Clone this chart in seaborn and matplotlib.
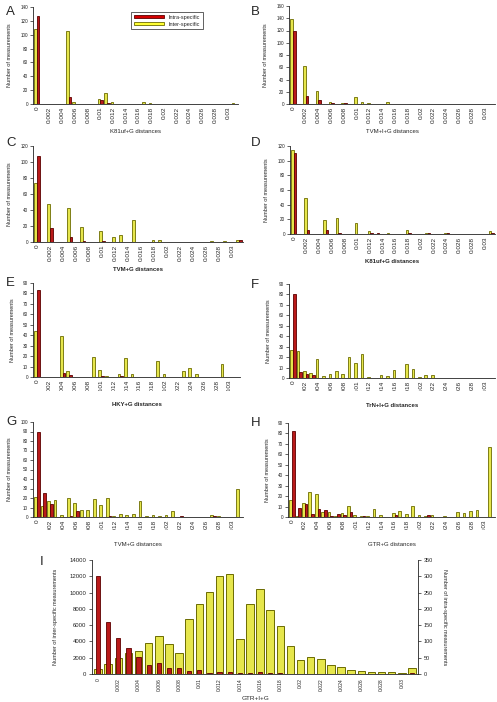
import matplotlib
matplotlib.use("Agg")
import matplotlib.pyplot as plt
from matplotlib.patches import Patch
from matplotlib.transforms import Bbox, TransformedBbox
import seaborn as sns
import pandas as pd

sns.set_style("ticks")
plt.rcParams["font.family"] = ["Liberation Sans", "DejaVu Sans"]

# 32 distance classes (0 .. 0.031), labels on every second class
bins = list(range(32))
tick_labels = ["0", "0.002", "0.004", "0.006", "0.008", "0.01", "0.012", "0.014",
               "0.016", "0.018", "0.02", "0.022", "0.024", "0.026", "0.028", "0.03"]

# --- A: K81uf+G ---
inter_A = [108, 0, 0, 0, 0, 105, 3, 0, 0, 0, 7, 16, 3, 0, 0, 0,
           0, 3, 1, 0, 0, 0, 0, 0, 0, 0, 0, 0, 0, 0, 0, 1]
intra_A = [127, 0, 0, 0, 0, 10, 0, 0, 0, 0, 6, 2, 0, 0, 0, 0,
           0, 0, 0, 0, 0, 0, 0, 0, 0, 0, 0, 0, 0, 0, 0, 0]
# --- B: TVM+I+G ---
inter_B = [138, 0, 62, 0, 21, 0, 4, 0, 1, 0, 12, 3, 1, 0, 0, 3,
           0, 0, 0, 0, 0, 0, 0, 0, 0, 0, 0, 0, 0, 0, 0, 0]
intra_B = [119, 0, 13, 0, 7, 0, 2, 0, 1, 0, 0, 0, 0, 0, 0, 0,
           0, 0, 0, 0, 0, 0, 0, 0, 0, 0, 0, 0, 0, 0, 0, 0]
# --- C: TVM+G ---
inter_C = [74, 0, 48, 0, 0, 42, 0, 19, 0, 0, 14, 0, 6, 9, 0, 28,
           0, 0, 3, 3, 0, 0, 0, 0, 0, 0, 0, 1, 0, 1, 0, 2]
intra_C = [108, 0, 18, 0, 0, 6, 0, 1, 0, 0, 1, 0, 0, 0, 0, 0,
           0, 0, 0, 0, 0, 0, 0, 0, 0, 0, 0, 0, 0, 0, 0, 3]
# --- D: K81uf+G ---
inter_D = [114, 0, 49, 0, 0, 19, 0, 22, 0, 0, 15, 0, 4, 0, 0, 2,
           0, 0, 5, 0, 0, 1, 0, 0, 1, 0, 0, 0, 0, 0, 0, 4]
intra_D = [111, 0, 5, 0, 0, 5, 0, 1, 0, 0, 0, 0, 1, 1, 0, 0,
           0, 0, 1, 0, 0, 2, 0, 0, 1, 0, 0, 0, 0, 0, 0, 2]
# --- E: HKY+G ---
inter_E = [44, 0, 0, 0, 39, 6, 0, 0, 0, 19, 7, 1, 0, 3, 18, 3,
           0, 0, 0, 15, 3, 0, 0, 6, 9, 3, 0, 0, 0, 12, 0, 0]
intra_E = [83, 0, 0, 0, 4, 2, 0, 0, 0, 0, 1, 0, 0, 1, 0, 0,
           0, 0, 0, 0, 0, 0, 0, 0, 0, 0, 0, 0, 0, 0, 0, 0]
# --- F: TrN+I+G ---
inter_F = [27, 26, 7, 5, 18, 2, 4, 7, 4, 20, 14, 23, 1, 0, 3, 2,
           8, 0, 13, 9, 1, 3, 3, 0, 0, 0, 0, 0, 0, 0, 0, 0]
intra_F = [80, 6, 4, 3, 0, 0, 0, 0, 0, 0, 0, 0, 0, 0, 0, 0,
           0, 0, 0, 0, 0, 0, 0, 0, 0, 0, 0, 0, 0, 0, 0, 0]
# --- G: TVM+G ---
inter_G = [21, 12, 17, 18, 2, 20, 15, 7, 7, 19, 13, 20, 1, 3, 2, 3,
           17, 1, 2, 1, 2, 6, 0, 0, 0, 0, 0, 2, 1, 0, 0, 29]
intra_G = [90, 25, 14, 0, 0, 1, 6, 0, 0, 0, 0, 1, 0, 0, 0, 0,
           0, 0, 0, 0, 0, 0, 1, 0, 0, 0, 0, 1, 0, 0, 0, 0]
# --- H: GTR+G ---
inter_H = [16, 1, 13, 24, 22, 5, 5, 1, 4, 11, 2, 1, 1, 8, 2, 0,
           4, 6, 3, 11, 2, 1, 2, 0, 1, 0, 5, 4, 6, 7, 0, 67]
intra_H = [82, 9, 12, 3, 8, 7, 1, 3, 2, 5, 0, 1, 0, 0, 0, 0,
           2, 0, 0, 0, 0, 2, 0, 0, 0, 0, 0, 0, 0, 0, 0, 0]
# --- I: GTR+I+G (inter on left axis, intra on right axis) ---
inter_I = [610, 1190, 1930, 2560, 2860, 3770, 4670, 3680, 2620, 6800, 8550, 10100,
           12000, 12300, 4300, 8600, 10500, 7900, 5900, 3500, 1700, 2050, 1900, 1100,
           800, 450, 400, 280, 200, 240, 160, 700]
intra_I = [301, 160, 110, 79, 51, 28, 33, 19, 19, 10, 13, 4,
           5, 7, 4, 3, 6, 2, 2, 1, 1, 1, 1, 1,
           1, 1, 1, 1, 1, 1, 1, 4]

YELLOW = "#ffff33"
YELLOW_EDGE = "#6b6b00"
RED = "#d40000"
RED_EDGE = "#5c0000"

W, H = 497, 702
fig = plt.figure(figsize=(W / 100, H / 100), dpi=100)


def box(left, top, right, bottom):
    return [left / W, 1 - bottom / H, (right - left) / W, (bottom - top) / H]


def clip_labels(ax, ycut):
    # the lower part of these tick labels is cut off in the reference
    clip = TransformedBbox(Bbox([[0, 1 - ycut / H], [1, 1]]), fig.transFigure)
    for t in ax.get_xticklabels():
        t.set_clip_box(clip)
        t.set_clip_on(True)


def pair_panel(rect, inter, intra, ymax, ystep, xlabel, bold=False, ycut=None):
    ax = fig.add_axes(box(*rect))
    df = pd.DataFrame({
        "bin": bins * 2,
        "count": inter + intra,
        "type": ["Inter-specific"] * len(bins) + ["Intra-specific"] * len(bins),
    })
    sns.barplot(data=df, x="bin", y="count", hue="type",
                hue_order=["Inter-specific", "Intra-specific"],
                palette=[YELLOW, RED], width=0.84, errorbar=None,
                legend=False, ax=ax, linewidth=0.6)
    for cont, ec in zip(ax.containers, [YELLOW_EDGE, RED_EDGE]):
        for p in cont:
            p.set_edgecolor(ec)
            if p.get_height() == 0:
                p.set_visible(False)
    ax.set_xlim(-0.6, 31.6)
    ax.set_ylim(0, ymax)
    ax.set_yticks(range(0, ymax + 1, ystep))
    ax.tick_params(axis="y", labelsize=3.3, length=2, width=0.5, pad=1.5, colors="#222222")
    ax.set_xticks(range(0, 32, 2))
    ax.set_xticklabels(tick_labels, rotation=90, fontsize=4.6)
    ax.tick_params(axis="x", length=0, pad=2)
    ax.set_xlabel(xlabel, fontsize=4.3, fontweight="bold" if bold else "normal", labelpad=4)
    ax.set_ylabel("Number of measurements", fontsize=4.0, labelpad=6)
    for s in ["left", "bottom"]:
        ax.spines[s].set_linewidth(0.6)
        ax.spines[s].set_color("#222222")
    sns.despine(ax=ax)
    if ycut is not None:
        clip_labels(ax, ycut)
    return ax


axA = pair_panel((33, 7, 238, 104), inter_A, intra_A, 140, 20, "K81uf+G distances")
axB = pair_panel((289, 6, 495, 104), inter_B, intra_B, 160, 20, "TVM+I+G distances")
axC = pair_panel((33, 146, 243, 242), inter_C, intra_C, 120, 20, "TVM+G distances", bold=True)
axD = pair_panel((290, 146, 495, 234), inter_D, intra_D, 120, 20, "K81uf+G distances", bold=True)
axE = pair_panel((33, 283, 240, 377), inter_E, intra_E, 90, 10, "HKY+G distances", bold=True, ycut=391)
axF = pair_panel((289, 284, 495, 378), inter_F, intra_F, 90, 10, "TrN+I+G distances", bold=True, ycut=391)
axG = pair_panel((33, 422, 243, 517), inter_G, intra_G, 100, 10, "TVM+G distances", ycut=530)
axH = pair_panel((288, 423, 495, 517), inter_H, intra_H, 90, 10, "GTR+G distances", ycut=530)

# --- panel I ---
axI = fig.add_axes(box(92, 560, 418, 674))
sns.barplot(x=bins, y=inter_I, ax=axI, color=YELLOW, width=0.75, errorbar=None,
            edgecolor=YELLOW_EDGE, linewidth=0.7)
axI.set_xlim(-0.6, 31.6)
axI.set_ylim(0, 14000)
axI.set_yticks(range(0, 14001, 2000))
axI.tick_params(axis="y", labelsize=4.3, length=2.5, width=0.5, pad=1.5, colors="#222222")
axI.set_xticks(range(0, 32, 2))
axI.set_xticklabels(tick_labels, rotation=90, fontsize=3.6)
axI.tick_params(axis="x", length=0, pad=3)
axI.set_xlabel("")
axI.set_ylabel("Number of inter-specific measurements", fontsize=4.0, labelpad=8)
axI.spines["top"].set_visible(False)
axI.spines["right"].set_visible(False)
fig.text(255 / W, 1 - 700 / H, "GTR+I+G", fontsize=4.6, ha="center", va="baseline")

ax2 = axI.twinx()
sns.barplot(x=bins, y=intra_I, ax=ax2, color=RED, width=0.42, errorbar=None,
            edgecolor=RED_EDGE, linewidth=0.6)
ax2.set_xlim(-0.6, 31.6)
ax2.set_ylim(0, 350)
ax2.set_yticks(range(0, 351, 50))
ax2.tick_params(axis="y", labelsize=4.0, length=2.5, width=0.5, pad=1.5, colors="#222222")
ax2.set_ylabel("Number of intra-specific measurements", fontsize=4.0, rotation=270, labelpad=10)
ax2.spines["top"].set_visible(False)
ax2.spines["left"].set_visible(False)
ax2.spines["bottom"].set_visible(False)
for ax in [axI, ax2]:
    for s in ["left", "right", "bottom"]:
        ax.spines[s].set_linewidth(0.6)
        ax.spines[s].set_color("#222222")

# legend in panel A
handles = [Patch(facecolor=RED, edgecolor=RED_EDGE, linewidth=0.6),
           Patch(facecolor=YELLOW, edgecolor=YELLOW_EDGE, linewidth=0.6)]
fig.legend(handles, ["Intra-specific", "Inter-specific"], loc="upper left",
           bbox_to_anchor=(128 / W, 1 - 9 / H), fontsize=4.0, frameon=True,
           fancybox=False, edgecolor="#222222", framealpha=1, handlelength=5.5,
           handleheight=0.45, borderpad=0.5, labelspacing=0.35, handletextpad=0.8)
fig.legends[0].get_frame().set_linewidth(0.5)

# panel letters
letters = [("A", 6, 15), ("B", 251, 15), ("C", 6, 146), ("D", 251, 146),
           ("E", 6, 286), ("F", 251, 288), ("G", 6, 425), ("H", 251, 426), ("I", 40, 565)]
for txt, x, y in letters:
    fig.text(x / W, 1 - y / H, txt, fontsize=9.5, va="baseline", ha="left")

fig.savefig("out.png", dpi=100)
